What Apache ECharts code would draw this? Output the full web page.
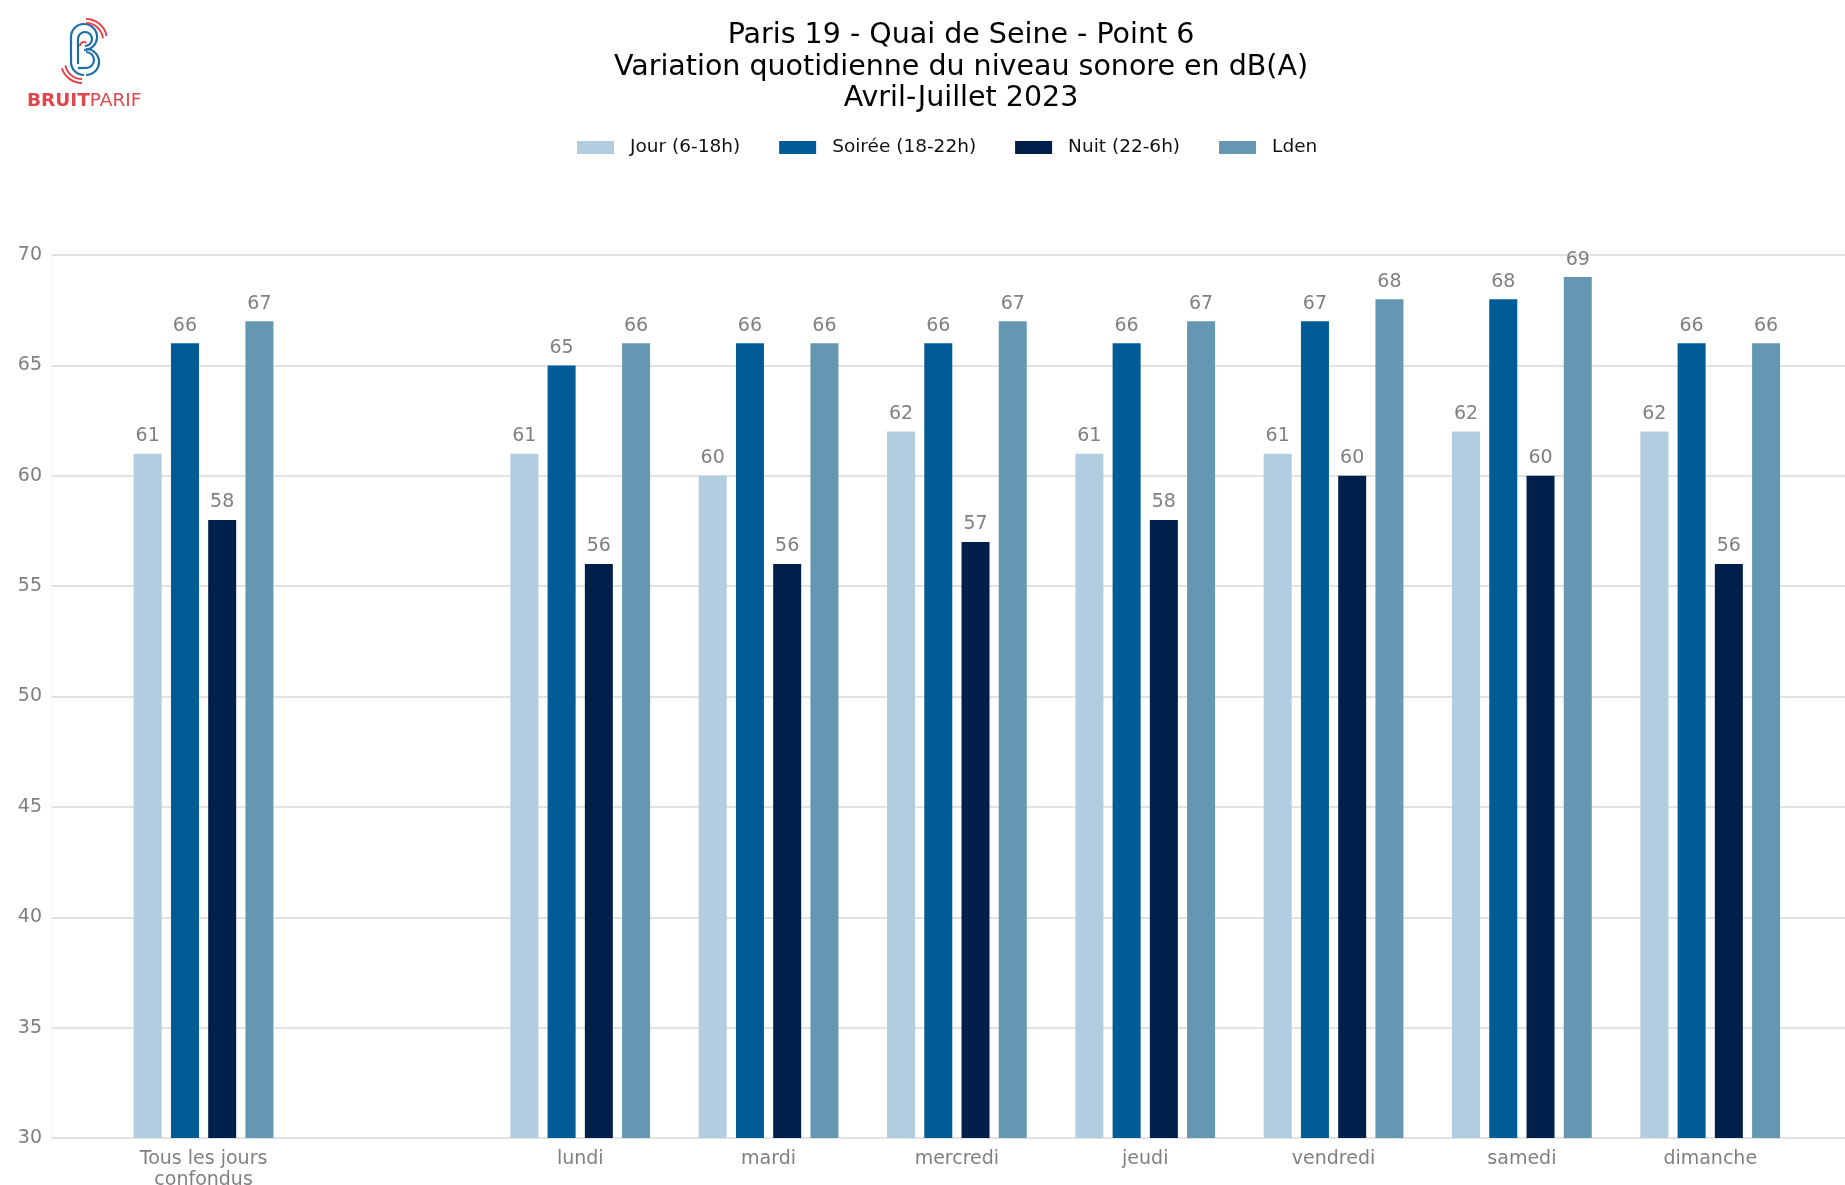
<!DOCTYPE html>
<html>
<head>
<meta charset="utf-8">
<script src="https://cdn.jsdelivr.net/npm/echarts@6/dist/echarts.min.js"></script>
<style>
html,body{margin:0;padding:0;background:#fff;}
#chart{width:1845px;height:1185px;}
</style>
</head>
<body>
<div id="chart"></div>
<script>
const categories = ['Tous les jours\nconfondus', '', 'lundi', 'mardi', 'mercredi', 'jeudi', 'vendredi', 'samedi', 'dimanche'];
const seriesNames = ['Jour (6-18h)', 'Soirée (18-22h)', 'Nuit (22-6h)', 'Lden'];
const jour   = [61, null, 61, 60, 62, 61, 61, 62, 62];
const soiree = [66, null, 65, 66, 66, 66, 67, 68, 66];
const nuit   = [58, null, 56, 56, 57, 58, 60, 60, 56];
const lden   = [67, null, 66, 66, 67, 67, 68, 69, 66];
const yMin = 30, yMax = 70, yStep = 5;
const colors = ['#b3cde0', '#005b96', '#011f4b', '#6497b1'];

const FONT = 'DejaVu Sans';
const GRAY = '#808080';
const chart = echarts.init(document.getElementById('chart'), null, {renderer: 'canvas'});

const seriesData = [jour, soiree, nuit, lden];
const series = seriesData.map((d, i) => ({
  name: seriesNames[i],
  type: 'bar',
  xAxisIndex: 1,
  yAxisIndex: 1,
  data: d,
  barWidth: 28,
  barGap: '33%',
  itemStyle: {color: colors[i]},
  label: {
    show: true,
    position: 'top',
    distance: 8,
    color: GRAY,
    fontFamily: FONT,
    fontSize: 19
  }
}));

const red = '#e0474c', blue = '#1a6fa8';
const PI = Math.PI;
function arc(cx, cy, r, a, b, c, w) {
  return {type: 'arc', shape: {cx: cx, cy: cy, r: r, startAngle: a, endAngle: b, clockwise: true}, style: {stroke: c, lineWidth: w || 2, fill: null}};
}
function line(x1, y1, x2, y2, c, w) {
  return {type: 'line', shape: {x1: x1, y1: y1, x2: x2, y2: y2}, style: {stroke: c, lineWidth: w || 2}};
}
const logo = [
  line(71, 37, 71, 62, blue, 2.2),
  arc(84, 37, 13, PI, 2.5 * PI, blue, 2.2),
  arc(86, 62, 13, -0.5 * PI, 0.5 * PI, blue, 2.2),
  arc(84, 62, 13, 0.5 * PI, PI, blue, 2.2),
  line(78, 39, 78, 64, blue, 2.2),
  arc(85, 39, 7, PI, 2.5 * PI, blue, 2.2),
  arc(86, 60, 8, -0.5 * PI, 0.5 * PI, blue, 2.2),
  line(78, 68, 86, 68, blue, 2.2),
  arc(86, 40, 17, -0.5 * PI, -0.1, red, 2),
  arc(86, 40, 21, -0.5 * PI, -0.2, red, 2),
  arc(82, 62, 17, 0.5 * PI, PI - 0.2, red, 2),
  arc(82, 62, 21, 0.5 * PI, PI - 0.3, red, 2),
  arc(84, 46, 4, PI, 1.7 * PI, red, 2),
  {type: 'text', left: 27, top: 92, style: {text: '{b|BRUIT}{n|PARIF}', fill: red, rich: {
    b: {fontFamily: FONT, fontSize: 18.5, fontWeight: 'bold', fill: red},
    n: {fontFamily: FONT, fontSize: 18.5, fill: red}
  }}}
];

chart.setOption({
  backgroundColor: '#ffffff',
  animation: false,
  title: {
    text: 'Paris 19 - Quai de Seine - Point 6\nVariation quotidienne du niveau sonore en dB(A)\nAvril-Juillet 2023',
    left: 956,
    textAlign: 'center',
    top: 15,
    textStyle: {fontFamily: FONT, fontSize: 28.5, fontWeight: 'normal', color: '#000', lineHeight: 31.5}
  },
  legend: {
    data: seriesNames,
    left: 572,
    top: 133,
    itemWidth: 37,
    itemHeight: 13,
    itemGap: 39,
    icon: 'rect',
    textStyle: {fontFamily: FONT, fontSize: 18.5, color: '#111', padding: [0, 0, 0, 11]}
  },
  graphic: logo,
  grid: [
    {left: 51, right: 0, top: 255, bottom: 47, outerBoundsMode: 'none'},
    {left: 109.4, right: 40.6, top: 255, bottom: 47, outerBoundsMode: 'none'}
  ],
  xAxis: [
    {type: 'value', gridIndex: 0, min: 0, max: 1, show: false},
    {
      type: 'category', gridIndex: 1, data: categories,
      axisLine: {show: false}, axisTick: {show: false},
      axisLabel: {color: GRAY, fontFamily: FONT, fontSize: 19, lineHeight: 21, margin: 11, interval: 0}
    }
  ],
  yAxis: [
    {
      type: 'value', gridIndex: 0, min: yMin, max: yMax, interval: yStep,
      axisLine: {show: true, lineStyle: {color: '#f3f3f3', width: 1}},
      axisTick: {show: false},
      axisLabel: {color: GRAY, fontFamily: FONT, fontSize: 19, margin: 9},
      splitLine: {show: true, lineStyle: {color: '#d9d9d9', width: 1.5}}
    },
    {type: 'value', gridIndex: 1, min: yMin, max: yMax, interval: yStep, show: false, splitLine: {show: false}}
  ],
  series: series
});
</script>
</body>
</html>
